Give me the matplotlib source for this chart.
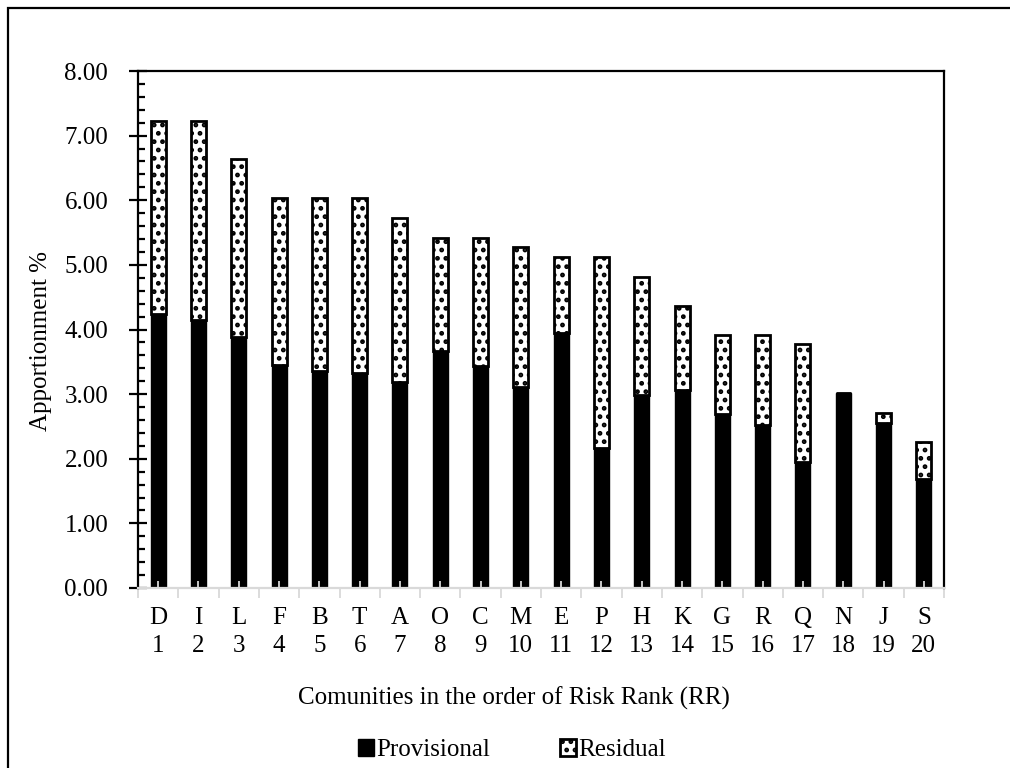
import numpy as np
import matplotlib.pyplot as plt
from matplotlib.patches import Rectangle
from matplotlib.ticker import MultipleLocator, FixedLocator

plt.rcParams['font.family'] = ['Liberation Serif', 'DejaVu Serif']
plt.rcParams['hatch.linewidth'] = 2.2

# communities in order of risk rank
communities = ['D', 'I', 'L', 'F', 'B', 'T', 'A', 'O', 'C', 'M',
               'E', 'P', 'H', 'K', 'G', 'R', 'Q', 'N', 'J', 'S']
ranks = list(range(1, 21))

# apportionment %
provisional = [4.24, 4.15, 3.88, 3.45, 3.36, 3.33, 3.19, 3.67, 3.44, 3.11,
               3.95, 2.16, 2.98, 3.07, 2.70, 2.52, 1.95, 3.01, 2.56, 1.69]
total = [7.23, 7.23, 6.64, 6.03, 6.03, 6.03, 5.72, 5.42, 5.42, 5.27,
         5.12, 5.12, 4.81, 4.37, 3.92, 3.92, 3.77, 3.01, 2.71, 2.26]
residual = [t - p for t, p in zip(total, provisional)]

W, H = 1010, 768
FS = 18
fig = plt.figure(figsize=(W / 100, H / 100), dpi=100)
ax = fig.add_axes([138 / W, 1 - 588 / H, 806 / W, 517 / H])

x = np.arange(len(communities))
w = 0.37
ax.bar(x, provisional, w, color='black', edgecolor='black', linewidth=1,
       label='Provisional')
ax.bar(x, residual, w, bottom=provisional, color='white', edgecolor='black',
       hatch='..', linewidth=2, label='Residual')

ax.set_xlim(-0.5, len(communities) - 0.5)
ax.set_ylim(0, 8)
ax.yaxis.set_minor_locator(MultipleLocator(0.2))
ax.set_yticks(np.arange(0, 9), [f'{v:.2f}' for v in range(0, 9)])
ax.tick_params(axis='y', which='major', direction='inout', length=13,
               width=1.6, labelsize=FS, pad=15)
ax.tick_params(axis='y', which='minor', direction='in', length=5, width=1.6)

# category labels, gray ticks between categories
ax.xaxis.set_major_locator(FixedLocator(np.arange(-0.5, len(communities), 1)))
ax.set_xticklabels([''] * (len(communities) + 1))
ax.set_xticks(x, [f'{c}\n{r}' for c, r in zip(communities, ranks)], minor=True)
ax.tick_params(axis='x', which='major', direction='out', length=7,
               color='#d9d9d9', width=1.3)
ax.tick_params(axis='x', which='minor', direction='in', length=5,
               color='#d9d9d9', width=1.3, labelsize=FS, pad=14)
for lab in ax.get_xticklabels(minor=True):
    lab.set_linespacing(1.35)

ax.spines['bottom'].set_color('#d9d9d9')
ax.spines['bottom'].set_linewidth(1.6)
for s in ['left', 'top', 'right']:
    ax.spines[s].set_linewidth(1.6)

fig.text(41 / W, 1 - 341 / H, 'Apportionment %', fontsize=FS, rotation=90,
         ha='center', va='center')
fig.text(514 / W, 1 - 705 / H, 'Comunities in the order of Risk Rank (RR)',
         fontsize=FS, ha='center', va='baseline')

fig.legend(loc='center', bbox_to_anchor=(512 / W, 1 - 750 / H), ncol=2,
           frameon=False, fontsize=FS, handlelength=0.64, handleheight=0.64,
           handletextpad=0.08, columnspacing=2.8, borderpad=0)

fig.add_artist(Rectangle((8 / W, -0.05), 1.2, 1 - 8 / H + 0.05,
                         transform=fig.transFigure, fill=False,
                         edgecolor='black', linewidth=1.6))

fig.savefig('out.png', dpi=100)
